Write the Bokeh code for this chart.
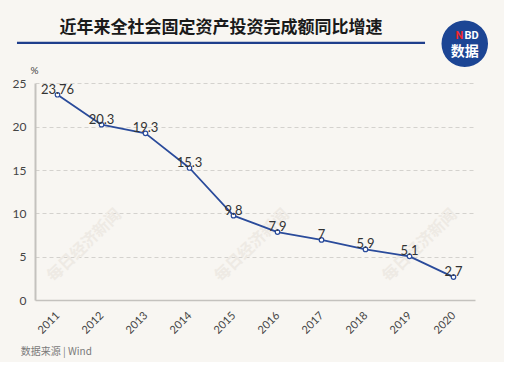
import math
from bokeh.plotting import figure
from bokeh.layouts import column
from bokeh.models import ColumnDataSource, Label, FactorRange, Range1d, FixedTicker
from bokeh.core.properties import value
from bokeh.embed import file_html
from bokeh.resources import INLINE

years = ["2011", "2012", "2013", "2014", "2015", "2016", "2017", "2018", "2019", "2020"]
growth = [23.76, 20.3, 19.3, 15.3, 9.8, 7.9, 7.0, 5.9, 5.1, 2.7]
growth_labels = ["23.76", "20.3", "19.3", "15.3", "9.8", "7.9", "7", "5.9", "5.1", "2.7"]
y_ticks = [0, 5, 10, 15, 20, 25]
title_text = "近年来全社会固定资产投资完成额同比增速"
unit_text = "%"
source_text = "数据来源 | Wind"
watermark_text = "每日经济新闻"

BG = "#f8f6f2"
BLUE = "#2a4b9b"
WM_COLOR = "#eeeae4"
W = 504
H_HEAD, H_MAIN, H_FOOT = 75, 265, 22
FX = W / 520.0

# watermark centres (reference pixel coords), only those fully inside the plot area
wm_pos = [(85, 257), (258, 257), (431, 257)]


def bare(fig):
    fig.background_fill_color = BG
    fig.border_fill_color = BG
    fig.outline_line_color = None
    fig.grid.visible = False
    return fig


# ---------------- header ----------------
head = bare(figure(width=W, height=H_HEAD, x_range=Range1d(0, 520), y_range=Range1d(78, 0),
                   x_axis_location=None, y_axis_location=None, min_border=0, frame_align=False,
                   output_backend="svg", toolbar_location=None))
head.text(x=[227.5], y=[26.5], text=[title_text], text_align="center", text_baseline="middle",
          text_font=value("Noto Sans CJK SC"), text_font_style="bold", text_font_size="17px",
          text_color="#1a1a1a")
head.quad(left=[17], right=[438], top=[42.8], bottom=[45.3], fill_color="#1f3f8c", line_color=None)
head.scatter(x=[479], y=[45], size=48 * FX, marker="circle", fill_color="#1c4594", line_color=None)
head.text(x=[473.5], y=[36.5], text=["N"], text_align="center", text_baseline="middle",
          text_font=value("Roboto"), text_font_style="bold", text_font_size="11px", text_color="#f0282c")
head.text(x=[486], y=[36.5], text=["BD"], text_align="center", text_baseline="middle",
          text_font=value("Roboto"), text_font_style="bold", text_font_size="11px", text_color="white")
head.text(x=[479], y=[51.5], text=["数据"], text_align="center", text_baseline="middle",
          text_font=value("Noto Sans CJK SC"), text_font_style="bold", text_font_size="14px",
          text_color="white")
head.text(x=[35], y=[72], text=[unit_text], text_align="center", text_baseline="middle",
          text_font=value("Lato"), text_font_size="10px", text_color="#444444")

# ---------------- main chart ----------------
src = ColumnDataSource(dict(x=years, y=growth, t=growth_labels))

p = figure(width=W, height=H_MAIN, x_range=FactorRange(*years, range_padding=0),
           y_range=Range1d(0, 25.98), output_backend="svg", toolbar_location=None,
           frame_align=False,
           min_border_left=35, min_border_right=29, min_border_top=0, min_border_bottom=36)
p.background_fill_color = BG
p.border_fill_color = BG
p.outline_line_color = None

# watermarks in data coords (x: 45.4 ref px per category from x=36, y: 9.2 ref px per unit from y=317)
for (X, Y) in wm_pos:
    p.add_layout(Label(x=(X - 36) / 45.4, y=(317 - Y) / 9.2, text=watermark_text,
                       text_align="center", text_baseline="middle", angle=0.77,
                       text_font="Noto Sans CJK SC", text_font_style="bold", text_font_size="16px",
                       text_color=WM_COLOR, level="underlay"))

p.line("x", "y", source=src, line_color=BLUE, line_width=1.8)
p.scatter("x", "y", source=src, size=4.5, fill_color="white", line_color=BLUE, line_width=1.2)
p.text("x", "y", text="t", source=src, text_align="center", text_baseline="alphabetic",
       y_offset=-6, text_font=value("Lato"), text_font_size="13px", text_color="#333333")

p.yaxis.ticker = FixedTicker(ticks=y_ticks)
p.yaxis.bounds = (0, 25)
p.yaxis.major_tick_line_color = None
p.yaxis.minor_tick_line_color = None
p.yaxis.axis_line_color = "#c4c2be"
p.yaxis.axis_line_width = 2
p.yaxis.major_label_standoff = 3
p.yaxis.major_label_text_font = "Lato"
p.yaxis.major_label_text_font_size = "12px"
p.yaxis.major_label_text_color = "#444444"

p.xaxis.major_tick_line_color = None
p.xaxis.axis_line_color = "#c4c2be"
p.xaxis.axis_line_width = 1.5
p.xaxis.major_label_orientation = math.pi / 4
p.xaxis.major_label_standoff = 7
p.xaxis.major_label_text_font = "Lato"
p.xaxis.major_label_text_font_size = "11px"
p.xaxis.major_label_text_color = "#444444"

p.xgrid.grid_line_color = None
p.ygrid.grid_line_color = "#d4d2ce"
p.ygrid.grid_line_dash = "4 3"
p.ygrid.grid_line_width = 1

# ---------------- footer ----------------
foot = bare(figure(width=W, height=H_FOOT, x_range=Range1d(0, 520), y_range=Range1d(378, 355),
                   x_axis_location=None, y_axis_location=None, min_border=0, frame_align=False,
                   output_backend="svg", toolbar_location=None))
foot.text(x=[21], y=[365.5], text=[source_text], text_align="left", text_baseline="middle",
          text_font=value("Noto Sans CJK SC"), text_font_size="10px", text_color="#7a7a7a")

layout = column(head, p, foot, spacing=0, styles={"background-color": BG})
open("out.html", "w").write(file_html(layout, INLINE))
